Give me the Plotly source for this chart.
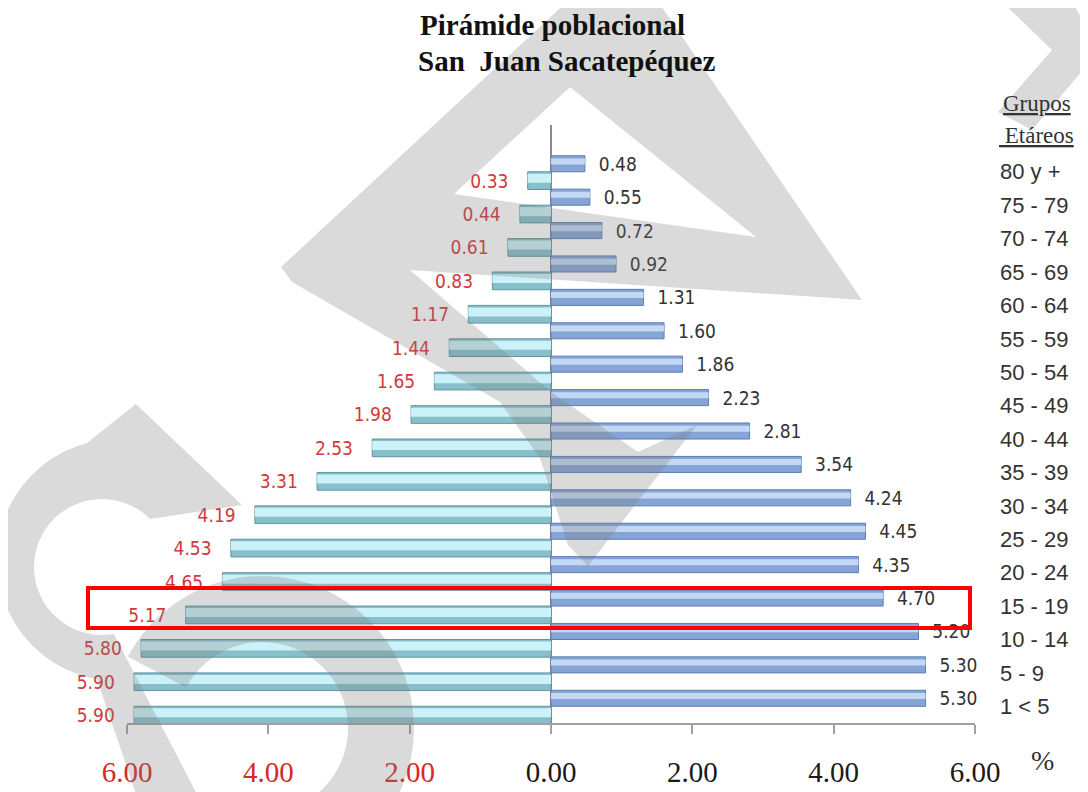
import math
import plotly.graph_objects as go

# ---------------- data ----------------
categories = ["1 < 5", "5 - 9", "10 - 14", "15 - 19", "20 - 24", "25 - 29", "30 - 34",
              "35 - 39", "40 - 44", "45 - 49", "50 - 54", "55 - 59", "60 - 64",
              "65 - 69", "70 - 74", "75 - 79", "80 y +"]
left_values = [5.90, 5.90, 5.80, 5.17, 4.65, 4.53, 4.19, 3.31, 2.53, 1.98, 1.65,
               1.44, 1.17, 0.83, 0.61, 0.44, 0.33]
right_values = [5.30, 5.30, 5.20, 4.70, 4.35, 4.45, 4.24, 3.54, 2.81, 2.23, 1.86,
                1.60, 1.31, 0.92, 0.72, 0.55, 0.48]
x_tick_values = [-6, -4, -2, 0, 2, 4, 6]
x_tick_labels = ["6.00", "4.00", "2.00", "0.00", "2.00", "4.00", "6.00"]

# ---------------- layout geometry (page pixels) ----------------
PAGE_W, PAGE_H = 1088, 792
OFF = 8                      # default body margin of the html page
L, R, T, B = 127, 975, 125, 723
PW, PH = R - L, B - T

NB = "\u00a0"
LABEL_FONT = "DejaVu Sans Condensed, Liberation Sans Narrow, Liberation Sans, sans-serif"
SERIF = "Liberation Serif, Times New Roman, serif"

left_x = [-v for v in left_values]

fig = go.Figure()
# left (cyan) bars: base + highlight
fig.add_trace(go.Bar(
    x=left_x, y=categories, orientation="h", offset=-0.53, width=0.53,
    marker=dict(color="#88bfca", line=dict(color="#5e95a2", width=1)),
    text=[f"{v:.2f}" + NB * 3 for v in left_values], textposition="outside",
    textfont=dict(family=LABEL_FONT, size=19, color="#d03a3a"),
    constraintext="none", cliponaxis=False, hoverinfo="x+y", showlegend=False))
fig.add_trace(go.Bar(
    x=left_x, y=categories, orientation="h", offset=-0.33, width=0.27,
    marker=dict(color="#cbf2f8", line=dict(width=0)), hoverinfo="skip", showlegend=False))
# right (blue) bars: base + highlight
fig.add_trace(go.Bar(
    x=right_values, y=categories, orientation="h", offset=0.0, width=0.48,
    marker=dict(color="#86a5d6", line=dict(color="#5b7db3", width=1)),
    text=[NB * 2 + f"{v:.2f}" for v in right_values], textposition="outside",
    textfont=dict(family=LABEL_FONT, size=19, color="#333333"),
    constraintext="none", cliponaxis=False, hoverinfo="x+y", showlegend=False))
fig.add_trace(go.Bar(
    x=right_values, y=categories, orientation="h", offset=0.22, width=0.18,
    marker=dict(color="#c2d8f3", line=dict(width=0)), hoverinfo="skip", showlegend=False))


# ---------------- watermark (decorative shapes, page pixels) ----------------
def to_paper(px, py):
    return ((px - L) / PW, (B - py) / PH)


def arc_pts(c, r, a0, a1, n=40):
    out = []
    for i in range(n + 1):
        a = math.radians(a0 + (a1 - a0) * i / n)
        out.append((c[0] + r * math.cos(a), c[1] + r * math.sin(a)))
    return out


def sub(poly):
    pts = [to_paper(x, y) for x, y in poly]
    return "M " + " L ".join(f"{px:.4f},{py:.4f}" for px, py in pts) + " Z "


# "A"-like letter built from non-overlapping pieces (leaves the inner triangle white)
a_left_leg = [(281, 267), (572, -3), (613, -3), (570, 87), (454, 194), (410, 270), (292, 282)]
a_right_leg = [(613, -3), (655, -3), (862, 300), (756, 237), (570, 87)]
a_crossbar = [(454, 194), (756, 237), (862, 300), (410, 270)]
a_tail = [(292, 282), (410, 270), (551, 392), (638, 452), (697, 425), (588, 566),
          (568, 545), (540, 458), (500, 402)]

# big "S": upper bowl (with hook and tail) and lower bowl
s_upper = ([(136, 404), (242, 505)]
           + arc_pts((102, 567), 68, -45, -280)
           + [(200, 800), (138, 800)]
           + arc_pts((118, 560), 121, -260, -105))
s_lower = arc_pts((262, 728), 152, 208, 420) + arc_pts((262, 728), 86, 420, 208)

chevron = [(995, -5), (1068, -5), (1100, 50), (1032, 130), (998, 112), (1052, 50)]

wm_paths = [sub(a_left_leg) + sub(a_right_leg) + sub(a_crossbar) + sub(a_tail),
            sub(s_upper), sub(s_lower), sub(chevron)]
shapes = [dict(type="path", xref="paper", yref="paper", path=p, fillcolor="#7a7a7a",
               opacity=0.28, line=dict(width=0), layer="above") for p in wm_paths]

# red highlight rectangle
x0, y0 = to_paper(88, 628)
x1, y1 = to_paper(970, 588)
shapes.append(dict(type="rect", xref="paper", yref="paper", x0=x0, y0=y0, x1=x1, y1=y1,
                   line=dict(color="#ff0000", width=4), fillcolor="rgba(0,0,0,0)",
                   layer="above"))

# ---------------- annotations ----------------
annotations = []


def ann(text, px, py, size, family, color="#111111", xanchor="center"):
    x, y = to_paper(px, py)
    annotations.append(dict(text=text, x=x, y=y, xref="paper", yref="paper",
                            xanchor=xanchor, yanchor="middle", showarrow=False,
                            font=dict(family=family, size=size, color=color)))


ann("<b>Pirámide poblacional</b>", 552, 25, 29, SERIF)
ann("<b>San" + NB + NB + "Juan Sacatepéquez</b>", 566, 61, 29, SERIF)
ann("<u>Grupos</u>", 1001, 103, 23, SERIF, "#333333", "left")
ann("<u>" + NB + "Etáreos</u>", 997, 135, 23, SERIF, "#333333", "left")
ann("%", 1042, 760, 28, SERIF, "#333333")

tick_text = []
for v, t in zip(x_tick_values, x_tick_labels):
    col = "#d42a2a" if v < 0 else "#1a1a1a"
    tick_text.append(f'<span style="color:{col}">{t}</span>')

fig.update_layout(
    width=PAGE_W - OFF, height=PAGE_H - OFF,
    margin=dict(l=L - OFF, r=PAGE_W - R, t=T - OFF, b=PAGE_H - B, autoexpand=False),
    paper_bgcolor="white", plot_bgcolor="white",
    barmode="overlay",
    showlegend=False,
    shapes=shapes,
    annotations=annotations,
    xaxis=dict(range=[-6, 6], tickvals=x_tick_values, ticktext=tick_text,
               ticks="outside", ticklen=9, tickcolor="#a0a0a0", tickwidth=1.5,
               showline=True, linecolor="#a0a0a0", linewidth=1.5,
               showgrid=False, zeroline=True, zerolinecolor="#8a8a8a", zerolinewidth=1.5,
               tickfont=dict(family=SERIF, size=29, color="#1a1a1a"),
               ticklabelstandoff=13, automargin=False, fixedrange=True),
    yaxis=dict(type="category", categoryorder="array", categoryarray=categories,
               range=[-0.5, 17.4], side="right", ticks="", showline=False,
               showgrid=False, zeroline=False,
               tickfont=dict(family="Liberation Sans, Arial, sans-serif", size=22,
                             color="#333333"),
               ticklabelstandoff=24, automargin=False, fixedrange=True),
)

fig.write_html("out.html")
